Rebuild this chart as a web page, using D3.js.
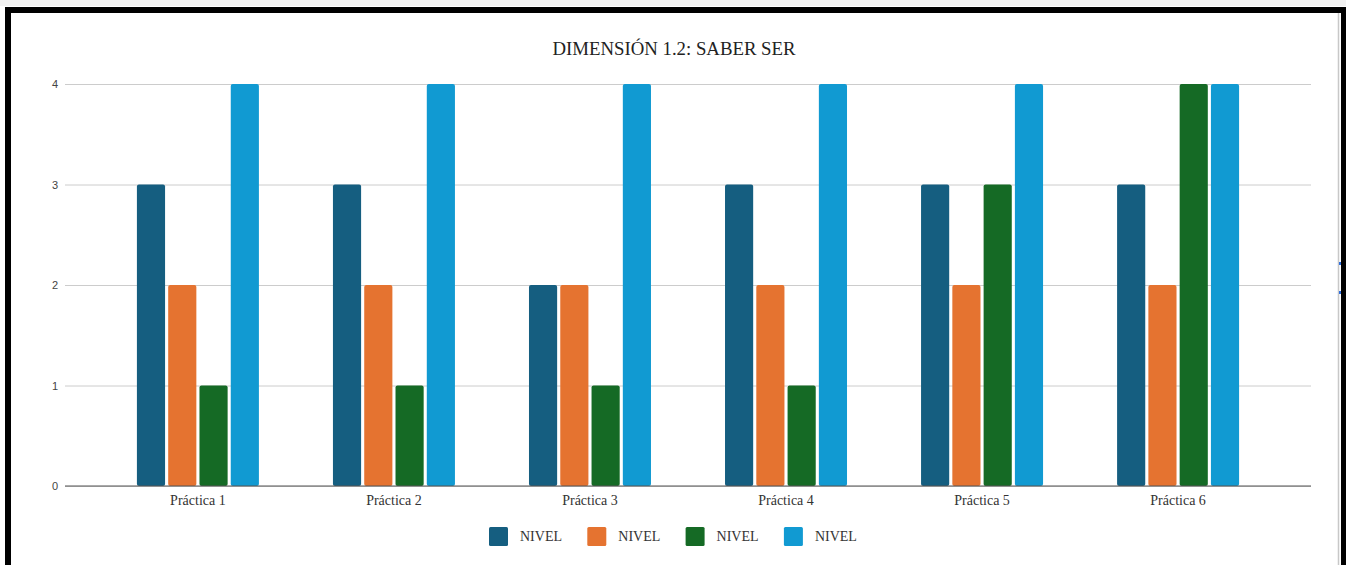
<!DOCTYPE html>
<html>
<head>
<meta charset="utf-8">
<script src="https://cdn.jsdelivr.net/npm/d3@7"></script>
<style>
  body { margin: 0; background: #fff; }
  svg { display: block; }
</style>
</head>
<body>
<div id="chart"></div>
<script>
(function () {

  // data
  var categories = ["Práctica 1", "Práctica 2", "Práctica 3", "Práctica 4", "Práctica 5", "Práctica 6"];
  var seriesNames = ["NIVEL", "NIVEL", "NIVEL", "NIVEL"];
  var nivelA = [3, 3, 2, 3, 3, 3];
  var nivelB = [2, 2, 2, 2, 2, 2];
  var nivelC = [1, 1, 1, 1, 3, 4];
  var nivelD = [4, 4, 4, 4, 4, 4];
  var yTicks = [0, 1, 2, 3, 4];
  var colors = ["#155e80", "#e57330", "#156a25", "#119ad2"];

  var series = [nivelA, nivelB, nivelC, nivelD];
  var width = 1346, height = 565;

  var svg = d3.select("#chart")
    .append("svg")
    .attr("width", width)
    .attr("height", height)

  // frame around the screenshot
  svg.append("rect").attr("x", 0).attr("y", 0).attr("width", width).attr("height", 6).attr("fill", "#f2f2f2")
  svg.append("rect").attr("x", 5).attr("y", 7).attr("width", width - 5).attr("height", 6).attr("fill", "#000")
  svg.append("rect").attr("x", 5).attr("y", 7).attr("width", 6).attr("height", height - 7).attr("fill", "#000")
  svg.append("rect").attr("x", 1341).attr("y", 7).attr("width", 5).attr("height", height - 7).attr("fill", "#000")
  svg.append("line").attr("x1", 1338.5).attr("x2", 1338.5).attr("y1", 13).attr("y2", height)
    .attr("stroke", "#c8c8c8").attr("stroke-width", 1.5)
  svg.selectAll(".mark").data([263, 292]).enter()
    .append("rect").attr("x", 1339).attr("y", function (d) { return d - 1; })
    .attr("width", 2).attr("height", 3).attr("fill", "#2f6fe0")

  var plotLeft = 65, plotRight = 1311;

  var y = d3.scaleLinear()
    .domain([0, 4])
    .range([486, 84])

  var x0 = d3.scaleBand()
    .domain(categories)
    .range([plotLeft, plotRight])
    .paddingOuter(0.178)
    .paddingInner(0)

  var groupW = 122;
  var x1 = d3.scaleBand()
    .domain(d3.range(series.length))
    .range([(x0.bandwidth() - groupW) / 2, (x0.bandwidth() + groupW) / 2])
    .paddingInner(0.1)

  // title
  svg.append("text")
    .attr("x", 674)
    .attr("y", 55)
    .attr("text-anchor", "middle")
    .attr("font-family", "Liberation Serif, Times New Roman, serif")
    .attr("font-size", "18.8px")
    .attr("fill", "#222")
    .text("DIMENSIÓN 1.2: SABER SER")

  // gridlines + y labels
  var yAxis = d3.axisLeft(y)
    .tickValues(yTicks)
    .tickSize(-(plotRight - plotLeft))
    .tickPadding(7)
    .tickFormat(d3.format("d"))

  var gy = svg.append("g")
    .attr("transform", "translate(" + plotLeft + ",0)")
    .call(yAxis)
  gy.select(".domain").remove()
  gy.selectAll(".tick line").attr("stroke", "#cccccc").attr("stroke-width", 1)
  gy.selectAll(".tick text")
    .attr("font-family", "Liberation Sans, Arial, sans-serif")
    .attr("font-size", "11px")
    .attr("fill", "#444")

  // bars
  var groups = svg.selectAll(".grp")
    .data(categories)
    .enter()
      .append("g")
      .attr("class", "grp")
      .attr("transform", function (d) { return "translate(" + x0(d) + ",0)"; })

  groups.selectAll("rect")
    .data(function (d, i) {
      return series.map(function (s, k) { return { k: k, v: s[i] }; });
    })
    .enter()
      .append("rect")
      .attr("x", function (d) { return x1(d.k); })
      .attr("y", function (d) { return y(d.v); })
      .attr("width", x1.bandwidth())
      .attr("height", function (d) { return y(0) - y(d.v); })
      .attr("rx", 2)
      .attr("fill", function (d) { return colors[d.k]; })

  // baseline + category labels
  var xAxis = d3.axisBottom(x0).tickSize(0).tickPadding(9)
  var gx = svg.append("g")
    .attr("transform", "translate(0," + y(0) + ")")
    .call(xAxis)
  gx.select(".domain").attr("stroke", "#555").attr("stroke-width", 1.2)
    .attr("d", "M" + plotLeft + ",0H" + plotRight)
  gx.selectAll(".tick text")
    .attr("font-family", "Liberation Serif, Times New Roman, serif")
    .attr("font-size", "14px")
    .attr("fill", "#333")

  // legend
  var legend = svg.selectAll(".leg")
    .data(seriesNames)
    .enter()
      .append("g")
      .attr("class", "leg")
      .attr("transform", function (d, i) { return "translate(" + (489 + i * 98.3) + ",527)"; })

  legend.append("rect")
    .attr("width", 19)
    .attr("height", 19)
    .attr("rx", 1.5)
    .attr("fill", function (d, i) { return colors[i]; })

  legend.append("text")
    .attr("x", 31)
    .attr("y", 14)
    .attr("font-family", "Liberation Serif, Times New Roman, serif")
    .attr("font-size", "14px")
    .attr("fill", "#333")
    .text(function (d) { return d; })

})();
</script>
</body>
</html>
